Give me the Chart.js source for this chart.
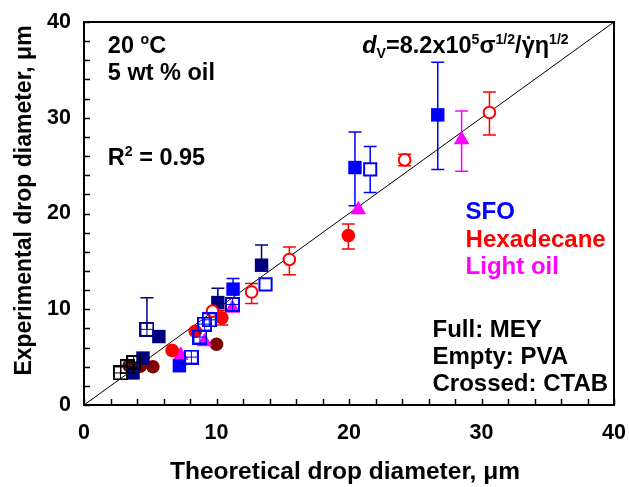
<!DOCTYPE html>
<html>
<head>
<meta charset="utf-8">
<script src="https://cdn.jsdelivr.net/npm/chart.js@4.4.1/dist/chart.umd.min.js"></script>
<style>
  html, body { margin: 0; padding: 0; background: #fff; }
  #wrap { width: 629px; height: 487px; }
</style>
</head>
<body>
<div id="wrap"><canvas id="c" width="629" height="487"></canvas></div>
<script>
// Axis ranges and tick labels
const axisMin = 0;
const axisMax = 40;
const minorStep = 2;
const labelledTicks = [0, 10, 20, 30, 40];

// SFO, MEY (full blue squares)
const sfoMeyX  = [26.7, 20.45, 11.25, 7.2];
const sfoMeyY  = [30.3, 24.8, 12.1, 4.1];
const sfoMeyHi = [35.8, 28.5, 13.2, null];
const sfoMeyLo = [24.6, 20.8, null, null];

// SFO, MEY second batch (full navy squares)
const sfoMey2X  = [13.4, 10.1, 5.65, 4.45, 3.7];
const sfoMey2Y  = [14.6, 10.7, 7.15, 4.9, 3.35];
const sfoMey2Hi = [16.7, 12.2, null, null, null];
const sfoMey2Lo = [null, null, null, null, null];

// SFO, PVA (empty blue squares)
const sfoPvaX  = [21.6, 13.7];
const sfoPvaY  = [24.6, 12.6];
const sfoPvaHi = [27.0, null];
const sfoPvaLo = [22.2, null];

// SFO, CTAB (crossed blue squares)
const sfoCtabX = [9.45, 9.1, 8.1, 11.2, 8.75];
const sfoCtabY = [8.9, 8.45, 5.0, 10.5, 7.1];

// SFO, CTAB second batch (crossed navy square)
const sfoCtab2X  = [4.75];
const sfoCtab2Y  = [7.9];
const sfoCtab2Hi = [11.2];
const sfoCtab2Lo = [null];

// CTAB, black crossed squares
const blackCtabX = [2.75, 3.25, 3.75];
const blackCtabY = [3.35, 4.0, 4.45];

// Hexadecane, MEY (full red circles)
const hexMeyX  = [19.95, 10.4, 8.4, 6.65];
const hexMeyY  = [17.7, 9.1, 7.7, 5.7];
const hexMeyHi = [18.9, 9.9, null, null];
const hexMeyLo = [16.3, 8.35, null, null];

// Hexadecane, PVA (empty red circles)
const hexPvaX  = [30.6, 24.2, 15.5, 12.65, 9.7];
const hexPvaY  = [30.55, 25.6, 15.2, 11.8, 9.8];
const hexPvaHi = [32.7, 26.2, 16.5, 12.7, null];
const hexPvaLo = [28.2, 25.0, 13.6, 10.6, null];

// Hexadecane, second batch (full dark red circles)
const hexDarkX = [10.0, 5.2, 4.25, 3.4];
const hexDarkY = [6.35, 4.0, 4.05, 4.1];

// Light oil, MEY (full magenta triangles)
const lightMeyX  = [28.5, 20.7, 9.1, 7.3, 11.2];
const lightMeyY  = [27.7, 20.4, 6.6, 5.2, 10.1];
const lightMeyHi = [30.7, null, null, null, null];
const lightMeyLo = [24.4, null, null, null, null];

// Reference line d_exp = d_theor
const diagX = [0, 40];
const diagY = [0, 40];

const BLUE = '#0000ff', NAVY = '#000080', RED = '#ff0000', DARKRED = '#800000', MAGENTA = '#ff00ff', BLACK = '#000000';
const FONT = '"Liberation Sans", Arial, Helvetica, sans-serif';

// Square outline with a cross through it; the four panes stay transparent
function crossedSquare(color) {
  const s = 15;
  const c = document.createElement('canvas');
  c.width = s; c.height = s;
  const g = c.getContext('2d');
  g.fillStyle = color;
  g.fillRect(0, 0, s, s);
  g.clearRect(2, 2, 5, 5);
  g.clearRect(8, 2, 5, 5);
  g.clearRect(2, 8, 5, 5);
  g.clearRect(8, 8, 5, 5);
  return c;
}

function pts(xs, ys) { return xs.map((x, i) => ({ x: x, y: ys[i] })); }

function markerSet(label, xs, ys, style, order, hi, lo) {
  return Object.assign({
    label: label,
    data: pts(xs, ys),
    showLine: false,
    order: order,
    errHi: hi || null,
    errLo: lo || null
  }, style);
}

const fullSquare = c => ({ pointStyle: 'rect', pointRadius: 9.5, backgroundColor: c, borderColor: c, borderWidth: 0, errColor: c });
const openSquare = c => ({ pointStyle: 'rect', pointRadius: 8.6, backgroundColor: '#fff', borderColor: c, borderWidth: 2, errColor: c });
const crossSquare = c => ({ pointStyle: crossedSquare(c), pointRadius: 8, backgroundColor: c, borderColor: c, errColor: c });
const fullCircle = c => ({ pointStyle: 'circle', pointRadius: 6.8, backgroundColor: c, borderColor: c, borderWidth: 0, errColor: c });
const openCircle = c => ({ pointStyle: 'circle', pointRadius: 5.8, backgroundColor: '#fff', borderColor: c, borderWidth: 2, errColor: c });
const fullTriangle = c => ({ pointStyle: 'triangle', pointRadius: 9, backgroundColor: c, borderColor: c, borderWidth: 0, errColor: c });

const datasets = [
  { label: 'diag', data: pts(diagX, diagY), showLine: true, borderColor: '#000', borderWidth: 1, pointRadius: 0, order: 20 },
  markerSet('Hexadecane dark', hexDarkX, hexDarkY, fullCircle(DARKRED), 19),
  markerSet('SFO MEY 2', sfoMey2X, sfoMey2Y, fullSquare(NAVY), 18, sfoMey2Hi, sfoMey2Lo),
  markerSet('Light oil MEY', lightMeyX, lightMeyY, fullTriangle(MAGENTA), 17, lightMeyHi, lightMeyLo),
  markerSet('SFO MEY', sfoMeyX, sfoMeyY, fullSquare(BLUE), 16, sfoMeyHi, sfoMeyLo),
  markerSet('Hexadecane MEY', hexMeyX, hexMeyY, fullCircle(RED), 15, hexMeyHi, hexMeyLo),
  markerSet('SFO PVA', sfoPvaX, sfoPvaY, openSquare(BLUE), 14, sfoPvaHi, sfoPvaLo),
  markerSet('Hexadecane PVA', hexPvaX, hexPvaY, openCircle(RED), 13, hexPvaHi, hexPvaLo),
  markerSet('SFO CTAB 2', sfoCtab2X, sfoCtab2Y, crossSquare(NAVY), 12, sfoCtab2Hi, sfoCtab2Lo),
  markerSet('SFO CTAB', sfoCtabX, sfoCtabY, crossSquare(BLUE), 11),
  markerSet('CTAB black', blackCtabX, blackCtabY, crossSquare(BLACK), 10)
];

// Error bars with caps, drawn underneath the markers
const errorBars = {
  id: 'errorBars',
  beforeDatasetsDraw(chart) {
    const ctx = chart.ctx, xs = chart.scales.x, ys = chart.scales.y;
    ctx.save();
    chart.data.datasets.forEach(ds => {
      if (!ds.errHi && !ds.errLo) return;
      ctx.strokeStyle = ds.errColor;
      ctx.lineWidth = 1.5;
      ds.data.forEach((p, i) => {
        const px = xs.getPixelForValue(p.x), py = ys.getPixelForValue(p.y);
        [ds.errHi && ds.errHi[i], ds.errLo && ds.errLo[i]].forEach(v => {
          if (v === null || v === undefined || v === false) return;
          const ey = ys.getPixelForValue(v);
          ctx.beginPath();
          ctx.moveTo(px, py); ctx.lineTo(px, ey);
          ctx.moveTo(px - 6.5, ey); ctx.lineTo(px + 6.5, ey);
          ctx.stroke();
        });
      });
    });
    ctx.restore();
  }
};

const tickFont = 'bold 21.5px ' + FONT;

// Frame, inward tick marks and tick labels
const frame = {
  id: 'frame',
  afterDatasetsDraw(chart) {
    const ctx = chart.ctx, a = chart.chartArea, xs = chart.scales.x, ys = chart.scales.y;
    ctx.save();
    ctx.strokeStyle = '#000';
    ctx.lineWidth = 1.5;
    for (let v = axisMin; v <= axisMax; v += minorStep) {
      const px = Math.round(xs.getPixelForValue(v)) + 0.5;
      const py = Math.round(ys.getPixelForValue(v)) + 0.5;
      ctx.beginPath();
      ctx.moveTo(px, a.bottom); ctx.lineTo(px, a.bottom - 6);
      ctx.moveTo(a.left, py); ctx.lineTo(a.left + 6, py);
      ctx.stroke();
    }
    ctx.lineWidth = 2;
    ctx.strokeRect(a.left, a.top, a.right - a.left, a.bottom - a.top);

    ctx.fillStyle = '#000';
    ctx.font = tickFont;
    ctx.textBaseline = 'middle';
    labelledTicks.forEach(v => {
      ctx.textAlign = 'center';
      ctx.fillText(String(v), xs.getPixelForValue(v), a.bottom + 28);
      ctx.textAlign = 'right';
      ctx.fillText(String(v), a.left - 13, ys.getPixelForValue(v));
    });
    ctx.restore();
  }
};

// Mixed text runs: plain, superscript, subscript, italic; y is the text's vertical middle
function drawRuns(ctx, runs, x, y, size) {
  let cx = x;
  const base = y + size * 0.36;
  runs.forEach(r => {
    const s = r.sup || r.sub ? size * 0.6 : size;
    ctx.font = (r.italic ? 'italic ' : '') + 'bold ' + s + 'px ' + FONT;
    const dy = r.sup ? -size * 0.4 : (r.sub ? size * 0.2 : 0);
    ctx.fillText(r.t, cx, base + dy);
    const w = ctx.measureText(r.t).width;
    if (r.dot) {
      ctx.beginPath();
      ctx.arc(cx + w * 0.52, base - size * 0.68, size * 0.07, 0, Math.PI * 2);
      ctx.fill();
    }
    cx += w;
  });
}

const notes = [
  { x: 1.8, y: 37.6, size: 23.5, color: BLACK, runs: [{ t: '20 ' }, { t: 'o', sup: true }, { t: 'C' }] },
  { x: 1.8, y: 34.8, size: 23.5, color: BLACK, runs: [{ t: '5 wt % oil' }] },
  { x: 1.8, y: 25.9, size: 23.5, color: BLACK, runs: [{ t: 'R' }, { t: '2', sup: true }, { t: ' = 0.95' }] },
  { x: 21.0, y: 37.6, size: 23.5, color: BLACK, runs: [{ t: 'd', italic: true }, { t: 'V', sub: true }, { t: '=8.2x10' }, { t: '5', sup: true }, { t: 'σ' }, { t: '1/2', sup: true }, { t: '/' }, { t: 'γ', dot: true }, { t: 'η' }, { t: '1/2', sup: true }] },
  { x: 28.8, y: 20.3, size: 24, color: BLUE, runs: [{ t: 'SFO' }] },
  { x: 28.8, y: 17.45, size: 24, color: RED, runs: [{ t: 'Hexadecane' }] },
  { x: 28.8, y: 14.6, size: 24, color: MAGENTA, runs: [{ t: 'Light oil' }] },
  { x: 26.3, y: 8.05, size: 24, color: BLACK, runs: [{ t: 'Full: MEY' }] },
  { x: 26.3, y: 5.2, size: 24, color: BLACK, runs: [{ t: 'Empty: PVA' }] },
  { x: 26.3, y: 2.4, size: 24, color: BLACK, runs: [{ t: 'Crossed: CTAB' }] }
];

const annotations = {
  id: 'annotations',
  afterDraw(chart) {
    const ctx = chart.ctx, xs = chart.scales.x, ys = chart.scales.y, a = chart.chartArea;
    ctx.save();
    ctx.textBaseline = 'alphabetic';
    ctx.textAlign = 'left';
    notes.forEach(n => {
      ctx.fillStyle = n.color;
      drawRuns(ctx, n.runs, xs.getPixelForValue(n.x), ys.getPixelForValue(n.y), n.size);
    });
    // axis titles
    ctx.fillStyle = '#000';
    ctx.textBaseline = 'middle';
    ctx.textAlign = 'center';
    ctx.font = 'bold 24.5px ' + FONT;
    ctx.fillText('Theoretical drop diameter, μm', (a.left + a.right) / 2 - 4, 472);
    ctx.font = 'bold 23px ' + FONT;
    ctx.translate(25, (a.top + a.bottom) / 2 - 13);
    ctx.rotate(-Math.PI / 2);
    ctx.fillText('Experimental drop diameter, μm', 0, 0);
    ctx.restore();
  }
};

new Chart(document.getElementById('c'), {
  type: 'scatter',
  data: { datasets: datasets },
  options: {
    responsive: false,
    animation: false,
    layout: { padding: { top: 22, right: 15, left: 0, bottom: 0 } },
    plugins: { legend: { display: false }, tooltip: { enabled: false } },
    scales: {
      x: {
        type: 'linear', min: axisMin, max: axisMax,
        grid: { display: false, drawTicks: false },
        border: { display: false },
        ticks: { display: false, stepSize: minorStep },
        afterFit: s => { s.height = 82; }
      },
      y: {
        type: 'linear', min: axisMin, max: axisMax,
        grid: { display: false, drawTicks: false },
        border: { display: false },
        ticks: { display: false, stepSize: minorStep },
        afterFit: s => { s.width = 84; }
      }
    }
  },
  plugins: [errorBars, frame, annotations]
});
</script>
</body>
</html>
